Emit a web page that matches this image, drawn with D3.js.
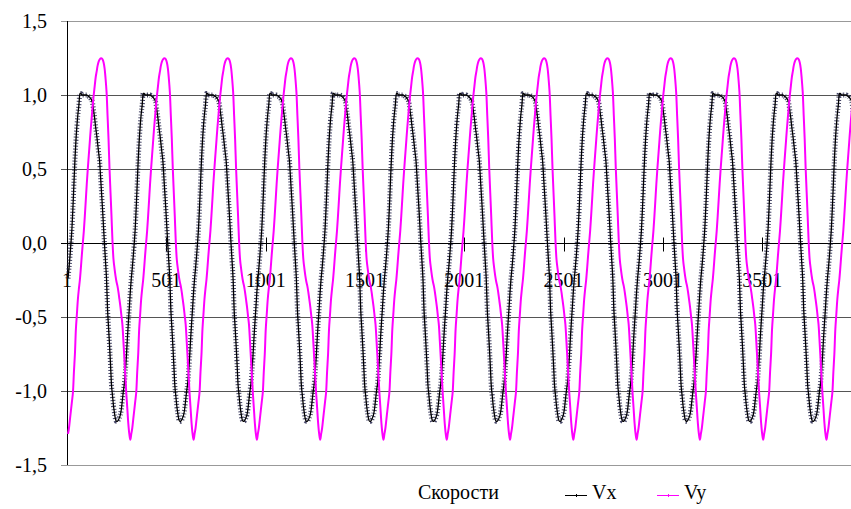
<!DOCTYPE html>
<html>
<head>
<meta charset="utf-8">
<script src="https://cdn.jsdelivr.net/npm/d3@7"></script>
<style>
  body { margin: 0; background: #fff; }
</style>
</head>
<body>
<script>
// one period of each series (64 steps per period)
const vxCycle = [
  1.01, 1.01, 1.00, 1.00, 1.00, 1.00, 1.00, 1.00, 0.995, 0.99, 0.985, 0.975, 0.965, 0.94, 0.89, 0.84,
  0.78, 0.73, 0.67, 0.61, 0.55, 0.44, 0.33, 0.22, 0.10, -0.02, -0.13, -0.25, -0.45, -0.57, -0.69, -0.82,
  -0.96, -1.03, -1.10, -1.15, -1.19, -1.205, -1.205, -1.195, -1.18, -1.16, -1.12, -1.06, -1.00, -0.95, -0.87, -0.77,
  -0.65, -0.54, -0.44, -0.33, -0.24, -0.17, -0.09, 0.00, 0.10, 0.24, 0.40, 0.56, 0.69, 0.79, 0.87, 0.93
]
const vyCycle = [
  -0.25, -0.17, -0.08, 0.00, 0.08, 0.18, 0.29, 0.40, 0.50, 0.59, 0.68, 0.77, 0.85, 0.93, 1.00, 1.06,
  1.12, 1.16, 1.20, 1.225, 1.24, 1.248, 1.248, 1.24, 1.22, 1.18, 1.11, 1.02, 0.86, 0.70, 0.50, 0.34,
  0.18, 0.01, -0.11, -0.17, -0.22, -0.26, -0.29, -0.33, -0.38, -0.43, -0.49, -0.55, -0.66, -0.78, -0.90, -1.02,
  -1.12, -1.22, -1.29, -1.33, -1.29, -1.25, -1.19, -1.13, -1.07, -1.01, -0.87, -0.75, -0.58, -0.48, -0.38, -0.31
]
const samplesPerCycle = 318.6
const firstStep = 52      // where sample 1 falls inside the period
const pointCount = 806
const xTickLabels = ['1', '501', '1001', '1501', '2001', '2501', '3001', '3501']
const yTickValues = [-1.5, -1, -0.5, 0, 0.5, 1, 1.5]
const seriesNames = ['Vx', 'Vy']
const legendTitle = 'Скорости'

const width = 851
const height = 509
const margin = {top: 21, left: 68, bottom: 44}
const fontFamily = "'Times New Roman', Times, 'Liberation Serif', 'DejaVu Serif', 'Noto Serif', serif"

const stepSamples = samplesPerCycle / vxCycle.length
const data = d3.range(pointCount).map((j) => {
  const k = (firstStep + j) % vxCycle.length
  return {sample: 1 + j * stepSamples, vx: vxCycle[k], vy: vyCycle[k]}
})

const svg = d3.select('body')
  .append('svg')
  .attr('width', width)
  .attr('height', height)
  .style('display', 'block')
  .style('font-family', fontFamily)

const x = d3.scaleLinear().domain([1, 4001]).range([margin.left, margin.left + 4000 * 0.19864])
const y = d3.scaleLinear().domain([-1.5, 1.5]).range([height - margin.bottom, margin.top])

const locale = d3.formatLocale({decimal: ',', thousands: ' ', grouping: [3], currency: ['', ''], minus: '-'})
const fmt = locale.format('.1f')

// gridlines + y axis
const grid = svg.append('g')
grid.selectAll('line')
  .data(yTickValues)
  .enter()
  .append('line')
  .attr('x1', margin.left - 7)
  .attr('x2', width)
  .attr('y1', (d) => Math.round(y(d)) + 0.5)
  .attr('y2', (d) => Math.round(y(d)) + 0.5)
  .attr('stroke', (d) => d === 0 ? '#000' : (Math.abs(d) === 1.5 ? '#999' : '#555'))
  .attr('stroke-width', 1)

grid.selectAll('text')
  .data(yTickValues)
  .enter()
  .append('text')
  .attr('x', 47)
  .attr('y', (d) => y(d))
  .attr('dy', '0.35em')
  .attr('text-anchor', 'end')
  .attr('font-size', 20)
  .attr('fill', '#000')
  .text((d) => fmt(d))

svg.append('line')
  .attr('x1', margin.left - 0.5)
  .attr('x2', margin.left - 0.5)
  .attr('y1', y(1.5))
  .attr('y2', y(-1.5))
  .attr('stroke', '#000')

// category axis along zero
const zeroY = Math.round(y(0)) + 0.5
const xt = svg.append('g')
xt.selectAll('line')
  .data(xTickLabels)
  .enter()
  .append('line')
  .attr('x1', (d) => Math.round(x(+d)) - 0.5)
  .attr('x2', (d) => Math.round(x(+d)) - 0.5)
  .attr('y1', zeroY - 6)
  .attr('y2', zeroY + 8)
  .attr('stroke', '#000')

xt.selectAll('text')
  .data(xTickLabels)
  .enter()
  .append('text')
  .attr('x', (d) => x(+d) - 1)
  .attr('y', 287)
  .attr('text-anchor', 'middle')
  .attr('font-size', 20)
  .attr('fill', '#000')
  .text((d) => d)

// series
const lineVx = d3.line().x((d) => x(d.sample)).y((d) => y(d.vx)).curve(d3.curveMonotoneX)
const lineVy = d3.line().x((d) => x(d.sample)).y((d) => y(d.vy)).curve(d3.curveCatmullRom)

// Vx: crosses drawn as short bars across the line
svg.append('path')
  .datum(data)
  .attr('d', lineVx)
  .attr('fill', 'none')
  .attr('stroke', '#22224a')
  .attr('stroke-opacity', 0.85)
  .attr('stroke-width', 5)
  .attr('stroke-dasharray', '1 2')

svg.append('path')
  .datum(data)
  .attr('d', lineVx)
  .attr('fill', 'none')
  .attr('stroke', '#000')
  .attr('stroke-width', 1.3)

svg.append('path')
  .datum(data)
  .attr('d', lineVy)
  .attr('fill', 'none')
  .attr('stroke', '#ff00ff')
  .attr('stroke-width', 2)

// legend
const legend = svg.append('g')
  .attr('font-size', 20)
legend.append('text')
  .attr('x', 418)
  .attr('y', 499)
  .text(legendTitle)

const legendItems = [
  {name: seriesNames[0], x: 565, color: '#000'},
  {name: seriesNames[1], x: 657, color: '#ff00ff'}
]
legendItems.forEach((item) => {
  legend.append('line')
    .attr('x1', item.x)
    .attr('x2', item.x + 22)
    .attr('y1', 495.5)
    .attr('y2', 495.5)
    .attr('stroke', item.color)
    .attr('stroke-width', 1)
  legend.append('line')
    .attr('x1', item.x + 11.5)
    .attr('x2', item.x + 11.5)
    .attr('y1', 494)
    .attr('y2', 497)
    .attr('stroke', item.color)
  legend.append('text')
    .attr('x', item.x + 27)
    .attr('y', 499)
    .text(item.name)
})
</script>
</body>
</html>
